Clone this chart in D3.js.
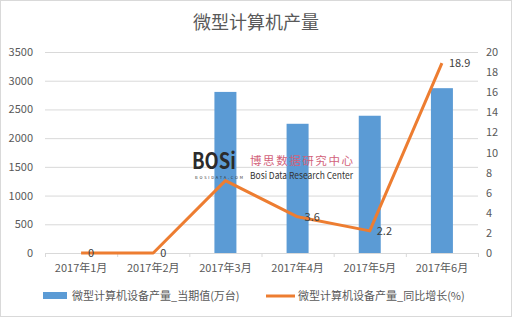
<!DOCTYPE html>
<html>
<head>
<meta charset="utf-8">
<script src="https://cdn.jsdelivr.net/npm/d3@7"></script>
<style>
body{margin:0;background:#fff;}
text{font-family:"Microsoft YaHei","Noto Sans CJK SC",sans-serif;}
</style>
</head>
<body>
<div id="chart"></div>
<script>
var months = ["2017年1月","2017年2月","2017年3月","2017年4月","2017年5月","2017年6月"];
var output = [null, null, 2805, 2250, 2390, 2870];
var growth = [0, 0, 7.2, 3.6, 2.2, 18.9];
var leftTicks = [0,500,1000,1500,2000,2500,3000,3500];
var rightTicks = [0,2,4,6,8,10,12,14,16,18,20];

var W = 512, H = 319;
var margin = {top:52,right:34,bottom:66,left:45},
  width = W - margin.left - margin.right,
  height = H - margin.top - margin.bottom;

var root = d3.select("#chart").append("svg")
  .attr("width",W).attr("height",H);
root.append("rect").attr("x",0.5).attr("y",0.5).attr("width",W-1).attr("height",H-3)
  .attr("fill","#fff").attr("stroke","#d9d9d9");

root.append("text").attr("x",W/2).attr("y",29)
  .attr("text-anchor","middle").attr("font-size",18).attr("fill","#595959")
  .text("微型计算机产量");

var svg = root.append("g").attr("transform",`translate(${margin.left},${margin.top})`);

var x = d3.scaleBand().domain(months).range([0,width]);
var y = d3.scaleLinear().domain([0,3500]).range([height,0]);
var y2 = d3.scaleLinear().domain([0,20]).range([height,0]);

// grid
svg.selectAll(".grid").data(leftTicks).enter().append("line")
  .attr("x1",0).attr("x2",width)
  .attr("y1",d=>y(d)+0.5).attr("y2",d=>y(d)+0.5)
  .attr("stroke","#d9d9d9");

var xa = svg.append("g").attr("transform",`translate(0,${height})`)
  .call(d3.axisBottom(x).tickSize(4).tickSizeOuter(0));
xa.select(".domain").attr("stroke","#d9d9d9");
xa.selectAll(".tick line").remove();
xa.selectAll(".tick text").attr("font-size",11).attr("fill","#595959").attr("dy","1.1em");
// ticks between categories
svg.selectAll(".xt").data(d3.range(months.length+1)).enter().append("line")
  .attr("x1",i=>i*x.step()+0.5).attr("x2",i=>i*x.step()+0.5)
  .attr("y1",height).attr("y2",height+4).attr("stroke","#d9d9d9");

var ya = svg.append("g").call(d3.axisLeft(y).tickValues(leftTicks).tickFormat(d3.format("d")).tickSize(0).tickPadding(12));
ya.select(".domain").remove();
ya.selectAll("text").attr("font-size",11).attr("fill","#595959");

var ya2 = svg.append("g").attr("transform",`translate(${width},0)`)
  .call(d3.axisRight(y2).tickValues(rightTicks).tickSize(0).tickPadding(8));
ya2.select(".domain").remove();
ya2.selectAll("text").attr("font-size",11).attr("fill","#595959");

var bw = 22;
svg.selectAll(".bar").data(months.map((m,i)=>({m:m,v:output[i]})).filter(d=>d.v!=null))
  .enter().append("rect")
  .attr("x",d=>x(d.m)+x.bandwidth()/2-bw/2)
  .attr("width",bw)
  .attr("y",d=>y(d.v))
  .attr("height",d=>height-y(d.v))
  .attr("fill","#5B9BD5");

var gdata = months.map((m,i)=>({m:m,v:growth[i]}));
var line = d3.line().x(d=>x(d.m)+x.bandwidth()/2).y(d=>y2(d.v));
svg.append("path").datum(gdata)
  .attr("fill","none").attr("stroke","#ED7D31").attr("stroke-width",3)
  .attr("stroke-linejoin","round")
  .attr("d",line);

// watermark
var wm = root.append("g");
wm.append("text").attr("x",192).attr("y",169).attr("font-family","DejaVu Sans")
  .attr("font-weight","bold").attr("font-size",22).attr("fill","#2b2b2b")
  .attr("textLength",44).attr("lengthAdjust","spacingAndGlyphs").text("BOSi");
wm.append("text").attr("x",195).attr("y",179).attr("font-size",4).attr("fill","#333")
  .attr("textLength",48).text("BOSIDATA.COM");
wm.append("text").attr("x",250).attr("y",165).attr("font-size",11.5).attr("fill","#d2627a")
  .attr("textLength",103).text("博思数据研究中心");
wm.append("text").attr("x",250).attr("y",179).attr("font-size",9.5).attr("fill","#333")
  .attr("textLength",103).attr("lengthAdjust","spacingAndGlyphs").text("Bosi Data Research Center");

// line labels
svg.selectAll(".lbl").data(gdata.filter((d,i)=>i!=2)).enter().append("text")
  .attr("x",d=>x(d.m)+x.bandwidth()/2+7)
  .attr("y",d=>y2(d.v)).attr("dy","0.35em")
  .attr("font-size",11).attr("fill","#404040")
  .text(d=>d.v);

// legend
var lg = root.append("g").attr("transform","translate(0,296)");
lg.append("rect").attr("x",43).attr("y",-4).attr("width",24).attr("height",7).attr("fill","#5B9BD5");
lg.append("text").attr("x",72).attr("y",0).attr("dy","0.35em").attr("font-size",11).attr("fill","#595959")
  .text("微型计算机设备产量_当期值(万台)");
lg.append("line").attr("x1",266).attr("x2",295).attr("y1",0).attr("y2",0)
  .attr("stroke","#ED7D31").attr("stroke-width",3);
lg.append("text").attr("x",298).attr("y",0).attr("dy","0.35em").attr("font-size",11).attr("fill","#595959")
  .text("微型计算机设备产量_同比增长(%)");
</script>
</body>
</html>
